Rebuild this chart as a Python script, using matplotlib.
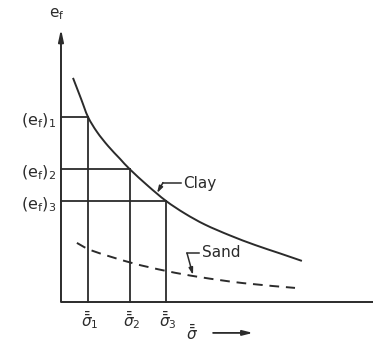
import matplotlib
matplotlib.use("Agg")
import matplotlib.pyplot as plt
import numpy as np
from matplotlib.path import Path
from matplotlib.patches import PathPatch

# Effective stress (arbitrary units) and final void ratio for the two soils
clay_sigma = [0.40, 0.67, 0.90, 1.20, 1.57, 1.97, 2.30, 2.90, 3.50,
              4.13, 4.80, 5.63, 6.47, 7.30, 8.03]
clay_e = [7.47, 6.77, 6.17, 5.67, 5.20, 4.77, 4.42, 3.87, 3.37,
          2.95, 2.58, 2.22, 1.90, 1.62, 1.37]

sand_sigma = [0.53, 1.07, 2.37, 3.53, 4.63, 6.07, 7.80]
sand_e = [1.97, 1.70, 1.30, 1.03, 0.83, 0.63, 0.47]

# Three marked states on the clay curve
state_sigma = [0.90, 2.30, 3.50]
state_e = [6.17, 4.42, 3.37]
state_e_labels = [r"(e$_\mathregular{f}$)$_\mathregular{1}$",
                  r"(e$_\mathregular{f}$)$_\mathregular{2}$",
                  r"(e$_\mathregular{f}$)$_\mathregular{3}$"]
state_sigma_labels = [r"$\bar{\bar{\sigma}}_1$", r"$\bar{\bar{\sigma}}_2$", r"$\bar{\bar{\sigma}}_3$"]

INK = "#2b2b2b"


def smooth_path(xs, ys):
    """Catmull-Rom curve through the given points as cubic Bezier segments."""
    p = np.column_stack([xs, ys])
    ext = np.vstack([p[0], p, p[-1]])
    verts = [p[0]]
    codes = [Path.MOVETO]
    for i in range(1, len(ext) - 2):
        p0, p1, p2, p3 = ext[i - 1], ext[i], ext[i + 1], ext[i + 2]
        c1 = p1 + (p2 - p0) / 6.0
        c2 = p2 - (p3 - p1) / 6.0
        verts += [c1, c2, p2]
        codes += [Path.CURVE4] * 3
    return Path(verts, codes)


fig = plt.figure(figsize=(3.73, 3.45), dpi=100)
fig.patch.set_facecolor("white")
ax = fig.add_axes([0, 0, 1, 1])
ax.set_xlim(-2.033, 10.4)
ax.set_ylim(-1.433, 10.067)
ax.axis("off")

# Axes drawn as arrows from the origin
ax.plot([0, 10.5], [0, 0], color=INK, lw=1.4, solid_capstyle="butt")
ax.annotate("", xy=(0, 9.1), xytext=(0, 0),
            arrowprops=dict(arrowstyle="-|>,head_length=0.7,head_width=0.15",
                            color=INK, lw=1.4, shrinkA=0, shrinkB=0))
ax.text(-0.13, 9.6, r"e$_\mathregular{f}$", fontsize=11, color=INK,
        ha="center", va="center")

# Curves
ax.add_patch(PathPatch(smooth_path(clay_sigma, clay_e), fill=False,
                       edgecolor=INK, lw=1.4))
ax.add_patch(PathPatch(smooth_path(sand_sigma, sand_e), fill=False,
                       edgecolor=INK, lw=1.4, linestyle=(0, (5, 3.5))))

# Construction lines to the marked states
for s, e, el, sl in zip(state_sigma, state_e, state_e_labels, state_sigma_labels):
    ax.plot([0, s], [e, e], color=INK, lw=1.3)
    ax.plot([s, s], [0, e], color=INK, lw=1.3)
    ax.text(-0.15, e - 0.12, el, fontsize=11.5, color=INK, ha="right", va="center")
    ax.text(s + 0.05, -0.6, sl, fontsize=11, color=INK, ha="center", va="center")

# Horizontal stress direction label
ax.text(4.37, -1.03, r"$\bar{\bar{\sigma}}$", fontsize=11, color=INK,
        ha="center", va="center")
ax.annotate("", xy=(6.4, -1.03), xytext=(5.07, -1.03),
            arrowprops=dict(arrowstyle="-|>,head_length=0.6,head_width=0.15",
                            color=INK, lw=1.3, shrinkA=0, shrinkB=0))

# Leader labels
ax.plot([3.4, 4.0], [3.98, 3.98], color=INK, lw=1.1)
ax.annotate("", xy=(3.2, 3.63), xytext=(3.4, 3.98),
            arrowprops=dict(arrowstyle="-|>,head_length=0.4,head_width=0.12",
                            color=INK, lw=1.1, shrinkA=0, shrinkB=0))
ax.text(4.07, 3.95, "Clay", fontsize=11, color=INK, ha="left", va="center")

ax.plot([4.2, 4.6], [1.63, 1.63], color=INK, lw=1.1)
ax.annotate("", xy=(4.4, 0.9), xytext=(4.2, 1.63),
            arrowprops=dict(arrowstyle="-|>,head_length=0.4,head_width=0.12",
                            color=INK, lw=1.1, shrinkA=0, shrinkB=0))
ax.text(4.7, 1.65, "Sand", fontsize=11, color=INK, ha="left", va="center")

fig.savefig("out.png", dpi=100, facecolor="white")
